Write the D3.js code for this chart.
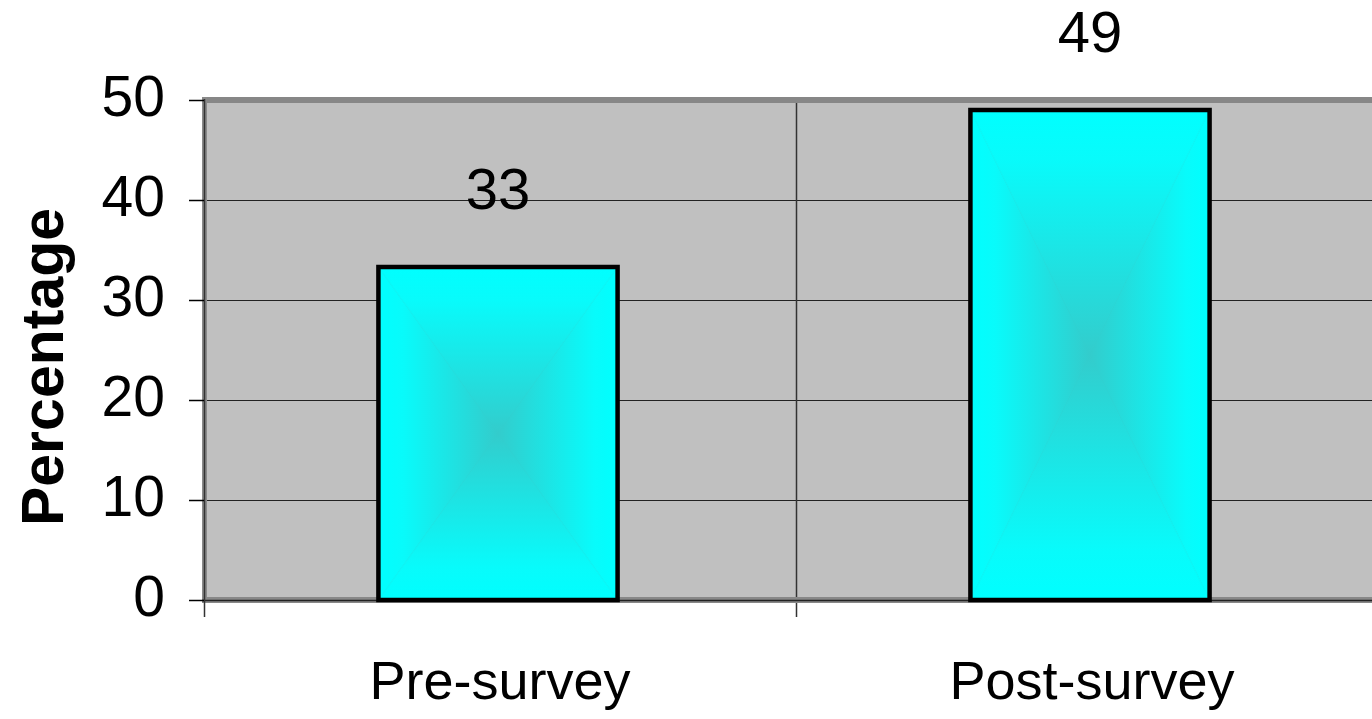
<!DOCTYPE html>
<html>
<head>
<meta charset="utf-8">
<script src="https://cdn.jsdelivr.net/npm/d3@7"></script>
<style>
  html, body { margin: 0; padding: 0; background: #fff; }
  svg { display: block; }
  text { font-family: "Liberation Sans", Arial, sans-serif; fill: #000; }
</style>
</head>
<body>
<svg id="chart" width="1372" height="719"></svg>
<script>
// ---- data ----
const categories = ["Pre-survey", "Post-survey"];
const values = [33.3, 49];
const valueLabels = ["33", "49"];
const yTicks = [0, 10, 20, 30, 40, 50];
const yTitle = "Percentage";

// ---- layout ----
const W = 1372, H = 719;
const plot = { left: 204, top: 100, bottom: 600, right: 1388 };

const svg = d3.select("#chart");
const defs = svg.append("defs");

// rectangular "from centre" gradient, built from four triangles
const edge = "#00ffff", centre = "#33cccc";
function lg(id, x1, y1, x2, y2) {
  const g = defs.append("linearGradient").attr("id", id)
    .attr("x1", x1).attr("y1", y1).attr("x2", x2).attr("y2", y2);
  g.append("stop").attr("offset", 0).attr("stop-color", edge);
  g.append("stop").attr("offset", 0.2).attr("stop-color", "#08fbfb");
  g.append("stop").attr("offset", 1).attr("stop-color", centre);
}
lg("gTop", 0, 0, 0, 1);
lg("gBot", 0, 1, 0, 0);
lg("gLeft", 0, 0, 1, 0);
lg("gRight", 1, 0, 0, 0);
const pat = defs.append("pattern").attr("id", "barFill")
  .attr("patternUnits", "objectBoundingBox")
  .attr("patternContentUnits", "objectBoundingBox")
  .attr("width", 1).attr("height", 1);
pat.append("rect").attr("width", 1).attr("height", 1).attr("fill", centre);
pat.append("polygon").attr("points", "0,0 1,0 0.5,0.5").attr("fill", "url(#gTop)");
pat.append("polygon").attr("points", "0,1 1,1 0.5,0.5").attr("fill", "url(#gBot)");
pat.append("polygon").attr("points", "0,0 0,1 0.5,0.5").attr("fill", "url(#gLeft)");
pat.append("polygon").attr("points", "1,0 1,1 0.5,0.5").attr("fill", "url(#gRight)");

// scales
const y = d3.scaleLinear().domain([0, 50]).range([plot.bottom, plot.top]);
const x = d3.scaleBand().domain(categories).range([plot.left, plot.right])
  .paddingInner(0.596).paddingOuter(0.298);

// plot area background
svg.append("rect")
  .attr("x", plot.left).attr("y", plot.top)
  .attr("width", plot.right - plot.left).attr("height", plot.bottom - plot.top)
  .attr("fill", "#c0c0c0");

// horizontal gridlines
svg.append("g").selectAll("line").data(yTicks.filter(d => d > 0)).join("line")
  .attr("x1", plot.left).attr("x2", plot.right)
  .attr("y1", d => Math.round(y(d)) + 0.5).attr("y2", d => Math.round(y(d)) + 0.5)
  .attr("stroke", "#222").attr("stroke-width", 1);

// vertical category boundaries
const step = x.step();
const bounds = d3.range(categories.length + 1).map(i => plot.left + i * step);
svg.append("g").selectAll("line").data(bounds.slice(1)).join("line")
  .attr("x1", d => Math.round(d) + 0.5).attr("x2", d => Math.round(d) + 0.5)
  .attr("y1", plot.top).attr("y2", plot.bottom + 17)
  .attr("stroke", "#333").attr("stroke-width", 1.5);

// grey frame (top / left / bottom)
svg.append("rect").attr("x", plot.left - 1).attr("y", plot.top - 3)
  .attr("width", plot.right - plot.left).attr("height", 6).attr("fill", "#878787");
svg.append("rect").attr("x", plot.left - 2).attr("y", plot.top - 3)
  .attr("width", 5).attr("height", plot.bottom - plot.top + 6).attr("fill", "#8a8a8a");
svg.append("rect").attr("x", plot.left - 2).attr("y", plot.bottom - 3)
  .attr("width", plot.right - plot.left).attr("height", 6).attr("fill", "#888");
svg.append("line").attr("x1", plot.left - 2).attr("x2", plot.right)
  .attr("y1", plot.bottom + 0.5).attr("y2", plot.bottom + 0.5)
  .attr("stroke", "#222").attr("stroke-width", 1.5);
svg.append("line").attr("x1", plot.left + 0.5).attr("x2", plot.left + 0.5)
  .attr("y1", plot.top - 1).attr("y2", plot.bottom + 17)
  .attr("stroke", "#333").attr("stroke-width", 1.5);

// y axis
const yAxis = d3.axisLeft(y).tickValues(yTicks).tickSize(15).tickPadding(24);
const yg = svg.append("g").attr("transform", `translate(${plot.left},0)`).call(yAxis);
yg.select(".domain").remove();
yg.selectAll(".tick line").attr("stroke", "#000").attr("stroke-width", 1.5);
yg.selectAll(".tick text")
  .attr("font-family", "'Liberation Sans', Arial, sans-serif")
  .attr("font-size", 57).attr("fill", "#000").attr("dy", "0.28em");

// bars
svg.append("g").selectAll("rect").data(values).join("rect")
  .attr("x", (d, i) => x(categories[i]) - 2)
  .attr("y", d => y(d))
  .attr("width", x.bandwidth())
  .attr("height", d => y(0) - y(d))
  .attr("fill", "url(#barFill)")
  .attr("stroke", "#000").attr("stroke-width", 4.5);

// value labels
svg.append("g").selectAll("text").data(values).join("text")
  .attr("x", (d, i) => x(categories[i]) + x.bandwidth() / 2 - 2)
  .attr("y", d => y(d) - 58)
  .attr("text-anchor", "middle")
  .attr("font-size", 58)
  .text((d, i) => valueLabels[i]);

// x axis labels
const xAxis = d3.axisBottom(x).tickSize(0).tickPadding(61);
const xg = svg.append("g").attr("transform", `translate(0,${plot.bottom})`).call(xAxis);
xg.select(".domain").remove();
xg.selectAll(".tick text")
  .attr("font-family", "'Liberation Sans', Arial, sans-serif")
  .attr("font-size", 54).attr("fill", "#000");

// y title
svg.append("text")
  .attr("transform", "translate(63,367) rotate(-90)")
  .attr("text-anchor", "middle")
  .attr("font-weight", "bold")
  .attr("font-size", 59)
  .text(yTitle);
</script>
</body>
</html>
